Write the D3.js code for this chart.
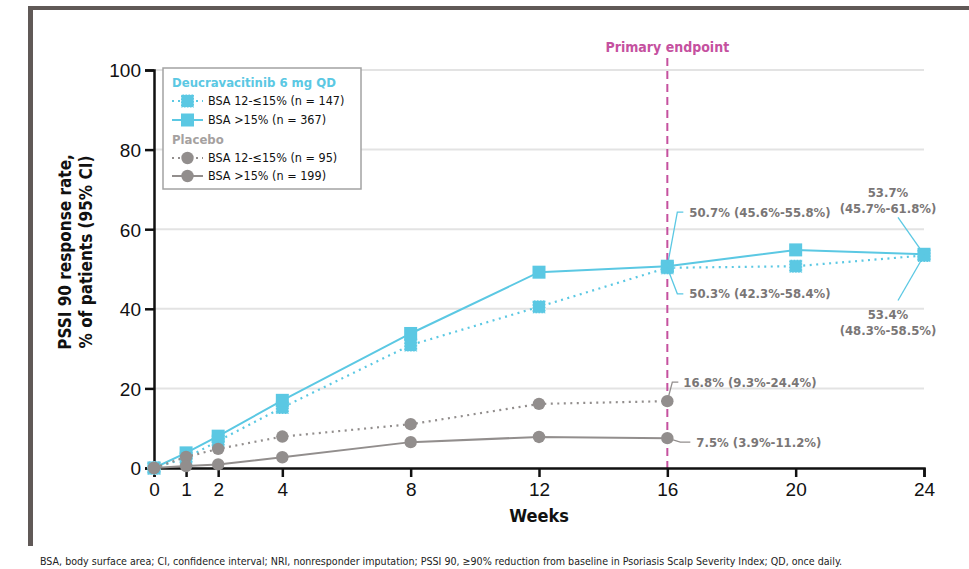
<!DOCTYPE html>
<html lang="en">
  <head>
    <meta charset="UTF-8" />
    <title>PSSI 90 response rate</title>
    <style>
      body {
        margin: 0;
        background: #fff;
      }
      svg {
        display: block;
        font-family: "DejaVu Sans Condensed", "DejaVu Sans", sans-serif;
      }
      .grid-lines {
        stroke: #e3e3e3;
        stroke-width: 2;
      }
      .tick text {
        font-size: 19px;
        fill: #111;
      }
      .callout {
        fill: #7a7676;
        font-size: 13px;
        font-weight: bold;
      }
    </style>
  </head>
  <body>
    <script src="https://d3js.org/d3.v7.min.js"></script>
    <script>
      const weeks = [0, 1, 2, 4, 8, 12, 16, 20, 24];
      const yTicks = [0, 20, 40, 60, 80, 100];

      const deucraLow = [0, 2.5, 6.8, 15.2, 30.9, 40.5, 50.3, 50.7, 53.4];
      const deucraHigh = [0, 3.8, 8.0, 17.0, 33.8, 49.2, 50.7, 54.8, 53.7];
      const placeboLow = [0, 2.8, 4.8, 7.9, 11.0, 16.1, 16.8];
      const placeboHigh = [0, 0.5, 0.9, 2.7, 6.5, 7.8, 7.5];

      const seriesNames = [
        "BSA 12-≤15% (n = 147)",
        "BSA >15% (n = 367)",
        "BSA 12-≤15% (n = 95)",
        "BSA >15% (n = 199)",
      ];

      const cyan = "#5bc8e3";
      const grey = "#928e8d";
      const magenta = "#c5519f";

      const series = [
        { name: seriesNames[0], values: deucraLow, color: cyan, dotted: true, shape: "square" },
        { name: seriesNames[1], values: deucraHigh, color: cyan, dotted: false, shape: "square" },
        { name: seriesNames[2], values: placeboLow, color: grey, dotted: true, shape: "circle" },
        { name: seriesNames[3], values: placeboHigh, color: grey, dotted: false, shape: "circle" },
      ];

      const width = 969;
      const height = 569;
      const margin = { top: 70, right: 45, bottom: 101, left: 154 };

      const svg = d3
        .select("body")
        .append("svg")
        .attr("width", width)
        .attr("height", height);

      // frame
      svg.append("rect").attr("x", 28).attr("y", 6).attr("width", width - 28).attr("height", 4).attr("fill", "#605957");
      svg.append("rect").attr("x", 28).attr("y", 6).attr("width", 5).attr("height", 540).attr("fill", "#605957");

      const x = d3
        .scaleLinear()
        .domain([0, 24])
        .range([margin.left, width - margin.right]);

      const y = d3
        .scaleLinear()
        .domain([0, 100])
        .range([height - margin.bottom, margin.top]);

      // grid
      svg
        .append("g")
        .attr("class", "grid-lines")
        .selectAll("line")
        .data(yTicks.filter((d) => d > 0))
        .join("line")
        .attr("x1", x(0))
        .attr("x2", x(24))
        .attr("y1", y)
        .attr("y2", y);

      // primary endpoint
      svg
        .append("line")
        .attr("x1", x(16))
        .attr("x2", x(16))
        .attr("y1", 58)
        .attr("y2", y(0))
        .attr("stroke", magenta)
        .attr("stroke-width", 2)
        .attr("stroke-dasharray", "8,5");

      svg
        .append("text")
        .attr("x", x(16))
        .attr("y", 52)
        .attr("text-anchor", "middle")
        .attr("fill", magenta)
        .attr("font-size", 14)
        .attr("font-weight", "bold")
        .text("Primary endpoint");

      // axes
      const xAxis = svg
        .append("g")
        .attr("transform", `translate(0, ${y(0)})`)
        .call(d3.axisBottom(x).tickValues(weeks).tickSize(9).tickPadding(6));

      const yAxis = svg
        .append("g")
        .attr("transform", `translate(${x(0)}, 0)`)
        .call(d3.axisLeft(y).tickValues(yTicks).tickSize(9).tickPadding(4));

      [xAxis, yAxis].forEach((g) => {
        g.select(".domain").attr("stroke", "#111").attr("stroke-width", 2.5);
        g.selectAll(".tick line").attr("stroke", "#111").attr("stroke-width", 2.5);
      });
      yAxis.selectAll(".tick text").attr("dy", "0.36em");

      svg
        .append("text")
        .attr("x", (x(0) + x(24)) / 2)
        .attr("y", 522)
        .attr("text-anchor", "middle")
        .attr("font-size", 18)
        .attr("font-weight", "bold")
        .attr("fill", "#111")
        .text("Weeks");

      const yLabel = svg
        .append("text")
        .attr("transform", "translate(75, 252) rotate(-90)")
        .attr("text-anchor", "middle")
        .attr("font-size", 17)
        .attr("font-weight", "bold")
        .attr("fill", "#111");
      yLabel.append("tspan").attr("x", 0).attr("y", -4).text("PSSI 90 response rate,");
      yLabel.append("tspan").attr("x", 0).attr("y", 17).text("% of patients (95% CI)");

      // lines + markers
      const line = d3
        .line()
        .x((d, i) => x(weeks[i]))
        .y((d) => y(d));

      function drawMarker(g, shape, cx, cy, color, dotted) {
        if (shape === "square") {
          g.append("rect")
            .attr("x", cx - 6.5)
            .attr("y", cy - 6.5)
            .attr("width", 13)
            .attr("height", 13)
            .attr("fill", color)
            .attr("stroke", dotted ? "#fff" : "none")
            .attr("stroke-width", 0.8)
            .attr("stroke-dasharray", "1.5,1.5");
        } else {
          g.append("circle")
            .attr("cx", cx)
            .attr("cy", cy)
            .attr("r", 6.2)
            .attr("fill", color);
        }
      }

      series.forEach((s) => {
        const g = svg.append("g");
        g.append("path")
          .attr("d", line(s.values))
          .attr("fill", "none")
          .attr("stroke", s.color)
          .attr("stroke-width", s.dotted ? 2.2 : 2)
          .attr("stroke-dasharray", s.dotted ? "2,4.5" : null);
        s.values.forEach((v, i) => drawMarker(g, s.shape, x(weeks[i]), y(v), s.color, s.dotted));
      });

      // callouts
      const callouts = [
        { week: 16, value: deucraHigh[6], path: [[10, -54], [16, -54]], lines: ["50.7% (45.6%-55.8%)"], tx: 22, ty: -54, anchor: "start", color: cyan },
        { week: 16, value: deucraLow[6], path: [[10, 26], [16, 26]], lines: ["50.3% (42.3%-58.4%)"], tx: 22, ty: 26, anchor: "start", color: cyan },
        { week: 24, value: deucraHigh[8], path: [[-26, -37]], lines: ["53.7%", "(45.7%-61.8%)"], tx: -36, ty: -62, anchor: "middle", color: cyan },
        { week: 24, value: deucraLow[8], path: [[-26, 45]], lines: ["53.4%", "(48.3%-58.5%)"], tx: -36, ty: 59, anchor: "middle", color: cyan },
        { week: 16, value: placeboLow[6], path: [[5, -19], [11, -19]], lines: ["16.8% (9.3%-24.4%)"], tx: 16, ty: -19, anchor: "start", color: grey },
        { week: 16, value: placeboHigh[6], path: [[13, 4], [23, 4]], lines: ["7.5% (3.9%-11.2%)"], tx: 29, ty: 4, anchor: "start", color: grey },
      ];

      callouts.forEach((c) => {
        const px = x(c.week);
        const py = y(c.value);
        svg
          .append("path")
          .attr("d", d3.line()([[px, py], ...c.path.map(([dx, dy]) => [px + dx, py + dy])]))
          .attr("fill", "none")
          .attr("stroke", c.color)
          .attr("stroke-width", 1.3);
        const t = svg
          .append("text")
          .attr("class", "callout")
          .attr("text-anchor", c.anchor);
        c.lines.forEach((l, i) =>
          t.append("tspan")
            .attr("x", px + c.tx)
            .attr("y", py + c.ty + i * 16)
            .attr("dy", "0.35em")
            .text(l)
        );
      });

      // legend
      const legend = svg.append("g").attr("transform", "translate(163, 68)");
      legend
        .append("rect")
        .attr("width", 198)
        .attr("height", 121)
        .attr("fill", "#fff")
        .attr("stroke", "#a3a3a3")
        .attr("stroke-width", 1.5);

      const legendRows = [
        { type: "title", text: "Deucravacitinib 6 mg QD", color: cyan, y: 14 },
        { type: "item", s: series[0], y: 33 },
        { type: "item", s: series[1], y: 52 },
        { type: "title", text: "Placebo", color: "#a5a1a0", y: 71 },
        { type: "item", s: series[2], y: 90 },
        { type: "item", s: series[3], y: 108 },
      ];

      legendRows.forEach((r) => {
        if (r.type === "title") {
          legend
            .append("text")
            .attr("x", 9)
            .attr("y", r.y)
            .attr("dy", "0.35em")
            .attr("font-size", 13)
            .attr("font-weight", "bold")
            .attr("fill", r.color)
            .text(r.text);
        } else {
          legend
            .append("line")
            .attr("x1", 9)
            .attr("x2", 40)
            .attr("y1", r.y)
            .attr("y2", r.y)
            .attr("stroke", r.s.color)
            .attr("stroke-width", 2)
            .attr("stroke-dasharray", r.s.dotted ? "2,4" : null);
          drawMarker(legend, r.s.shape, 24.5, r.y, r.s.color, r.s.dotted);
          legend
            .append("text")
            .attr("x", 45)
            .attr("y", r.y)
            .attr("dy", "0.35em")
            .attr("font-size", 12.5)
            .attr("fill", "#111")
            .text(r.s.name);
        }
      });

      // footnote
      svg
        .append("text")
        .attr("x", 40)
        .attr("y", 565)
        .attr("font-size", 10.6)
        .attr("fill", "#222")
        .text(
          "BSA, body surface area; CI, confidence interval; NRI, nonresponder imputation; PSSI 90, ≥90% reduction from baseline in Psoriasis Scalp Severity Index; QD, once daily."
        );
    </script>
  </body>
</html>
